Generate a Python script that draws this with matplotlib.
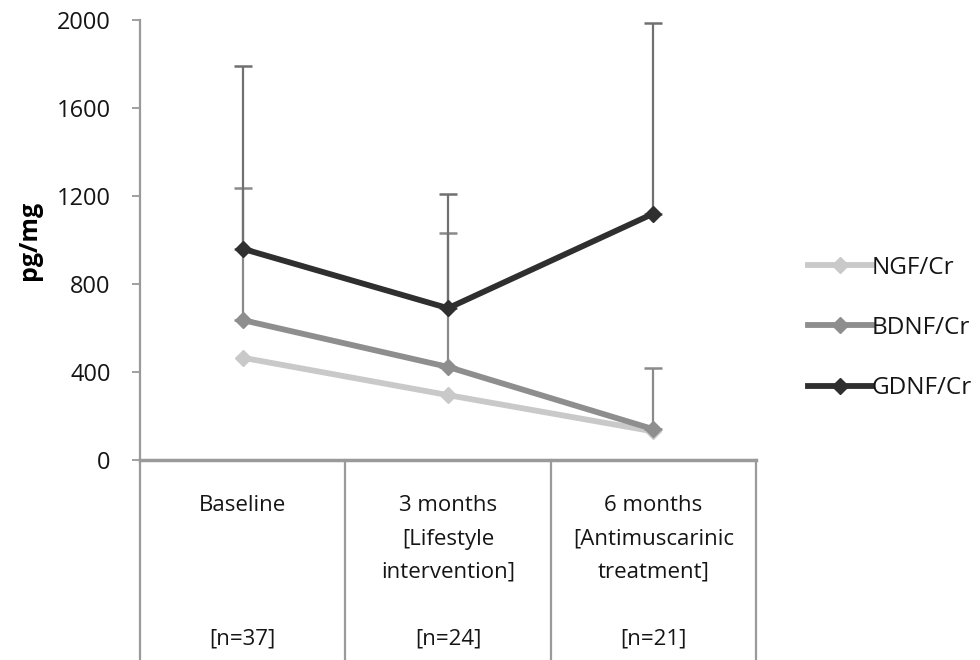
import matplotlib
matplotlib.use("Agg")
import matplotlib.pyplot as plt
import numpy as np

plt.rcParams['font.family'] = ['Open Sans', 'DejaVu Sans']

# data
categories = ["Baseline\n\n\n\n[n=37]",
              "3 months\n[Lifestyle\nintervention]\n\n[n=24]",
              "6 months\n[Antimuscarinic\ntreatment]\n\n[n=21]"]
series = ["NGF/Cr", "BDNF/Cr", "GDNF/Cr"]
ngf = [465, 295, 130]
bdnf = [636, 423, 140]
gdnf = [960, 690, 1120]
ngf_err = [0, 0, 0]
bdnf_err = [600, 610, 280]
gdnf_err = [830, 520, 865]
yticks = [0, 400, 800, 1200, 1600, 2000]

colors = ["#c9c9c9", "#8e8e8e", "#2f2f2f"]
ecolors = ["#c9c9c9", "#8a8a8a", "#707070"]

fig = plt.figure(figsize=(9.8, 6.6), dpi=100)
ax = fig.add_axes([140/980, 1-460/660, (756-140)/980, 440/660])

x = np.arange(len(categories)) + 0.5
vals = [ngf, bdnf, gdnf]
errs = [ngf_err, bdnf_err, gdnf_err]
for i in range(3):
    e = np.array(errs[i])
    if e.sum() > 0:
        ax.errorbar(x, vals[i], yerr=[np.zeros(3), e], fmt='none',
                    ecolor=ecolors[i], elinewidth=1.6, capsize=6.5,
                    capthick=1.8, zorder=2+i)
    ax.plot(x, vals[i], color=colors[i], lw=4.2, marker='D', ms=8.5,
            label=series[i], zorder=3+i, solid_joinstyle='miter')

ax.set_xlim(0, 3)
ax.set_ylim(0, 2000)
ax.set_yticks(yticks)
ax.set_yticklabels([str(v) for v in yticks], fontsize=17, color="#151515")
ax.tick_params(axis='y', length=6, width=1.3, color="#999999", pad=15)
ax.set_xticks([])
for s in ['top', 'right']:
    ax.spines[s].set_visible(False)
ax.spines['left'].set_color("#9a9a9a")
ax.spines['left'].set_linewidth(1.6)
ax.spines['bottom'].set_color("#9a9a9a")
ax.spines['bottom'].set_linewidth(2.5)

# category boxes below the axis
for b in [0, 1, 2, 3]:
    ax.plot([b, b], [0, -0.46], transform=ax.get_xaxis_transform(),
            color="#9a9a9a", lw=1.6, clip_on=False)
for xi, lab in zip(x, categories):
    ax.text(xi, -0.08, lab, transform=ax.get_xaxis_transform(),
            ha='center', va='top', fontsize=16, color="#151515",
            linespacing=1.77)

ax.set_ylabel("pg/mg", fontsize=18, fontweight='bold')
ax.yaxis.set_label_coords(-0.159, 0.5)

leg = ax.legend(loc='center left', bbox_to_anchor=(1.084, 0.30), frameon=False,
                fontsize=17.5, handlelength=2.63, handletextpad=0.0,
                labelspacing=1.5, borderaxespad=0, borderpad=0)
for t in leg.get_texts():
    t.set_color("#151515")

fig.savefig("out.png", dpi=100)
